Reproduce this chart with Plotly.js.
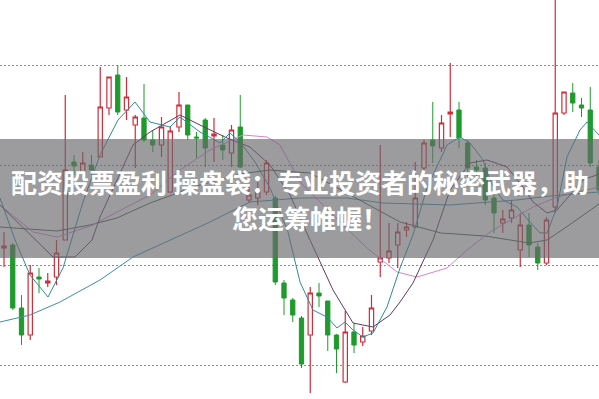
<!DOCTYPE html>
<html>
<head>
<meta charset="utf-8">
<script src="https://cdn.plot.ly/plotly-3.0.1.min.js"></script>
<style>
html,body{margin:0;padding:0;background:#fff;}
#chart{width:599px;height:399px;}
</style>
</head>
<body>
<div id="chart"></div>
<script>
// OHLC values (price units)
const openV  = [25.2,25.5,19.2,16.5,22.3,21.7,22.3,26.0,33.8,32.8,33.5,34.3,39.2,42.5,39.0,37.5,38.2,36.0,35.5,30.8,37.3,39.5,36.3,38.0,36.4,35.5,34.7,37.3,30.0,30.2,30.8,30.2,21.7,20.0,18.2,16.5,20.7,19.9,16.5,11.8,16.8,15.8,16.9,23.8,24.2,25.5,27.0,27.3,33.2,36.0,35.2,38.6,39.0,35.7,33.3,33.2,30.2,27.7,28.2,25.0,27.5,25.3,23.7,29.3,38.7,40.7,39.5,39.0,33.3];
const highV  = [26.8,25.7,20.5,23.5,23.2,22.7,26.0,40.5,34.5,34.8,34.5,43.3,42.3,43.5,42.3,38.5,41.6,37.0,38.3,37.3,40.8,39.5,36.8,38.2,38.2,36.5,37.5,40.5,31.5,31.8,34.0,30.4,22.0,20.2,18.4,21.3,21.7,19.9,16.6,18.9,17.7,17.3,20.5,35.5,27.7,27.7,27.8,33.8,36.0,39.8,38.5,43.7,39.8,36.0,34.0,33.7,30.7,29.0,30.0,28.7,28.7,25.7,28.3,51.0,40.8,41.7,40.2,41.3,34.0];
const lowV   = [23.3,19.0,15.5,16.0,20.7,21.3,21.5,26.0,32.5,32.5,32.5,34.3,38.5,38.5,38.0,33.2,35.8,34.8,34.3,30.7,36.8,36.0,34.2,33.3,33.8,34.0,33.3,33.2,29.7,29.5,30.5,21.5,18.5,17.8,13.2,10.7,19.3,14.9,12.7,11.7,14.7,15.4,16.5,22.3,23.7,23.2,26.3,27.2,33.0,33.7,34.8,36.3,35.2,31.3,32.2,29.5,26.7,26.7,27.7,23.3,24.3,23.0,23.5,28.7,38.5,38.8,38.3,33.3,30.5];
const closeV = [25.4,19.2,16.5,22.7,22.1,21.9,24.7,33.0,33.4,33.7,33.0,39.3,42.3,38.8,40.3,38.3,36.0,35.5,37.3,36.9,39.5,36.5,36.2,35.2,36.6,35.0,37.0,33.3,30.5,31.0,33.7,21.8,20.2,18.5,13.6,20.7,20.4,16.5,15.1,16.8,15.5,16.4,19.2,24.2,24.9,26.8,27.3,30.2,35.7,35.4,37.7,38.8,36.2,33.2,33.0,30.0,28.7,28.1,29.0,27.5,25.5,23.7,28.0,38.7,40.8,39.7,39.2,33.7,31.0];

// Moving-average lines (position in bars, price)
const ma5X  = [-0.46,1.26,2.97,5.03,6.74,9.03,10.97,13.03,14.97,16.69,18.97,20.11,22.4,24.69,25.83,26.97,28.69,30.4,32.46,33.83,35.31,36.91,38.06,38.97,39.89,41.03,42.17,43.77,45.26,46.74,48.34,50.63,52.11,53.26,54.74,55.89,57.03,58.63,60.11,61.26,62.06,63.2,64.34,65.83,66.63,68.0];
const ma5Y  = [30.2,26.0,22.5,20.3,23.2,29.8,34.5,38.0,39.8,37.8,37.3,38.3,36.8,35.7,36.7,35.8,33.8,31.2,26.8,21.8,19.0,18.3,17.2,17.8,17.0,16.3,16.7,19.3,23.2,26.5,31.2,35.5,36.3,35.7,34.0,31.3,30.0,29.3,27.8,26.7,26.7,29.3,34.3,37.0,37.8,36.5];
const ma10X = [-0.46,2.97,5.6,8.11,10.06,10.97,14.74,16.69,20.11,22.4,25.49,28.11,30.4,32.69,34.97,37.6,39.89,42.17,44.11,45.26,46.74,49.03,50.97,53.26,55.2,57.49,59.31,60.46,62.06,63.2,64.69,66.17,68.0];
const ma10Y = [29.5,26.5,24.3,24.3,26.0,28.3,35.5,36.8,38.5,37.5,36.2,35.3,33.5,30.5,26.0,21.0,17.7,17.3,18.5,19.8,21.7,26.0,31.0,33.7,34.0,33.3,31.3,29.8,28.7,29.0,30.5,32.0,32.6];
const ma20X = [-0.46,3.31,6.06,10.17,12.91,16.69,20.11,23.54,27.31,30.06,31.54,33.83,37.6,41.49,44.91,47.2,50.63,52.91,55.54,60.46,63.2,68.0];
const ma20Y = [29.5,26.8,26.3,27.5,28.8,30.5,33.0,35.0,36.5,36.3,35.5,31.8,28.5,25.2,22.8,22.3,23.2,25.0,26.8,29.3,30.3,31.3];
const ma30X = [-0.46,6.06,9.83,12.91,16.69,22.4,26.97,30.4,34.97,40.0,45.26,49.94,54.97,60.0,62.06,64.11,68.0];
const ma30Y = [27.3,26.9,27.5,28.2,29.7,31.5,32.6,33.0,32.7,30.3,27.8,26.7,26.4,25.7,26.0,27.2,29.6];
const ma60X = [-0.46,2.97,6.4,10.97,14.74,18.97,23.54,28.11,33.83,39.2,43.31,50.97,58.63,62.4,68.0];
const ma60Y = [17.8,18.5,19.8,22.0,24.3,26.0,27.8,29.8,30.2,30.2,29.7,29.5,30.0,30.4,30.8];

const titleLine1 = "配资股票盈利 操盘袋：专业投资者的秘密武器，助";
const titleLine2 = "您运筹帷幄！";

const barIdx = openV.map((_, i) => i);

const traces = [
  {
    type: 'candlestick',
    x: barIdx, open: openV, high: highV, low: lowV, close: closeV,
    increasing: {line: {color: '#d02c3a', width: 1.2}, fillcolor: '#ffffff'},
    decreasing: {line: {color: '#1f9a2c', width: 1}, fillcolor: '#1f9a2c'},
    whiskerwidth: 0,
    hoverinfo: 'skip'
  },
  {type:'scatter', mode:'lines', x: ma60X, y: ma60Y, line:{color:'#3f8ea6', width:1}, hoverinfo:'skip'},
  {type:'scatter', mode:'lines', x: ma30X, y: ma30Y, line:{color:'#3f5f48', width:1}, hoverinfo:'skip'},
  {type:'scatter', mode:'lines', x: ma20X, y: ma20Y, line:{color:'#d384d4', width:1}, hoverinfo:'skip'},
  {type:'scatter', mode:'lines', x: ma10X, y: ma10Y, line:{color:'#643a5c', width:1}, hoverinfo:'skip'},
  {type:'scatter', mode:'lines', x: ma5X,  y: ma5Y,  line:{color:'#2f8c98', width:1}, hoverinfo:'skip'}
];

const layout = {
  width: 599, height: 399,
  margin: {l:0, r:0, t:0, b:0},
  paper_bgcolor: '#ffffff', plot_bgcolor: '#ffffff',
  showlegend: false,
  xaxis: {range: [-0.457, 68.0], showgrid: false, zeroline: false, showticklabels: false, ticks: '', showline: false, rangeslider: {visible: false}, fixedrange: true},
  yaxis: {range: [10.1, 50], tick0: 3.5, dtick: 10, showgrid: true, gridcolor: '#8c8c8c', griddash: '2px,2px', gridwidth: 1, zeroline: false, showticklabels: false, ticks: '', showline: false, fixedrange: true},
  shapes: [{
    type: 'rect', xref: 'paper', yref: 'paper', x0: 0, x1: 1, y0: 0.3534, y1: 0.6516,
    fillcolor: 'rgba(105,105,110,0.66)', line: {width: 0}, layer: 'above'
  }],
  annotations: [
    {xref:'paper', yref:'paper', x:0.5, y:0.544, xanchor:'center', yanchor:'middle', showarrow:false,
     text: '<b>' + titleLine1 + '</b>', font:{family:'Noto Sans CJK SC', size:26, color:'#ffffff'}},
    {xref:'paper', yref:'paper', x:0.517, y:0.454, xanchor:'center', yanchor:'middle', showarrow:false,
     text: '<b>' + titleLine2 + '</b>', font:{family:'Noto Sans CJK SC', size:26, color:'#ffffff'}}
  ]
};

Plotly.newPlot('chart', traces, layout, {staticPlot: true, displayModeBar: false});
</script>
</body>
</html>
